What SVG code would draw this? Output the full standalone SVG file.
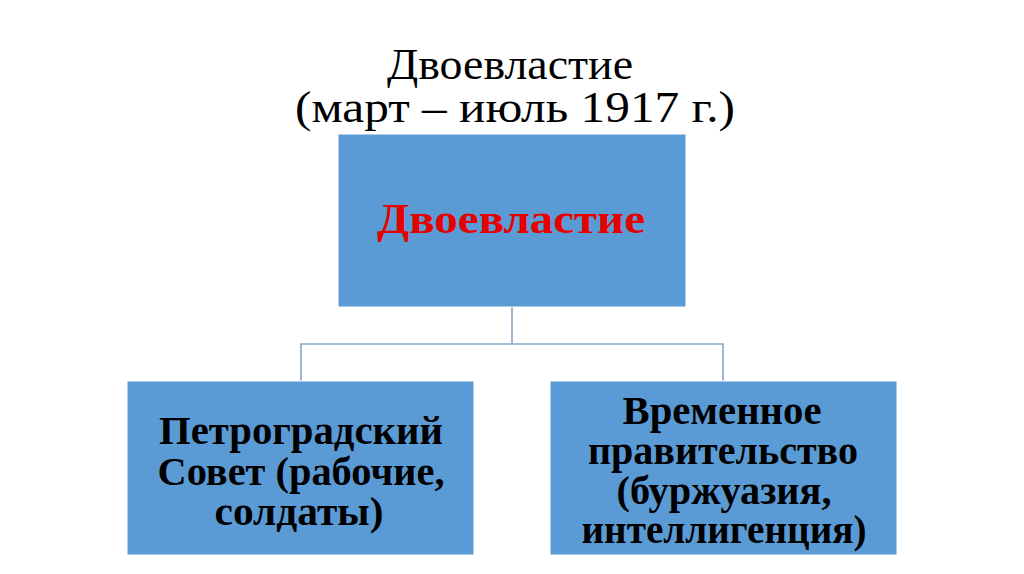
<svg xmlns="http://www.w3.org/2000/svg" width="1024" height="574" viewBox="0 0 1024 574">
<style>
.box{fill:#5b9bd5;stroke:#ffffff;stroke-width:1}
.title{font-family:"Liberation Serif","Times New Roman",serif;font-size:44px;fill:#000}
.lbl{font-family:"Liberation Serif","Times New Roman",serif;font-weight:bold;font-size:40px;fill:#000}
.red{font-family:"Liberation Serif","Times New Roman",serif;font-weight:bold;font-size:43px;fill:#e60000}
.conn{fill:none;stroke:#86a6c9;stroke-width:1.6}
</style>
<rect width="1024" height="574" fill="#ffffff"/>
<g id="title">
<text class="title" x="510" y="79" text-anchor="middle" textLength="246" lengthAdjust="spacingAndGlyphs">Двоевластие</text>
<text class="title" x="515" y="122" text-anchor="middle" textLength="440" lengthAdjust="spacingAndGlyphs">(март – июль 1917 г.)</text>
</g>
<g id="connectors">
<path class="conn" d="M512 307 V344 M301 381 V344 H723 V381"/>
</g>
<g id="node-root">
<rect class="box" x="338" y="134" width="348" height="173"/>
<text class="red" x="511" y="233" text-anchor="middle" textLength="268" lengthAdjust="spacingAndGlyphs">Двоевластие</text>
</g>
<g id="node-soviet">
<rect class="box" x="127" y="381" width="347" height="174"/>
<text class="lbl" x="301" y="444" text-anchor="middle" textLength="284" lengthAdjust="spacingAndGlyphs">Петроградский</text>
<text class="lbl" x="301" y="485" text-anchor="middle" textLength="287" lengthAdjust="spacingAndGlyphs">Совет (рабочие,</text>
<text class="lbl" x="299" y="525" text-anchor="middle" textLength="169" lengthAdjust="spacingAndGlyphs">солдаты)</text>
</g>
<g id="node-government">
<rect class="box" x="550" y="381" width="347" height="174"/>
<text class="lbl" x="722" y="424" text-anchor="middle" textLength="199" lengthAdjust="spacingAndGlyphs">Временное</text>
<text class="lbl" x="723" y="464" text-anchor="middle" textLength="270" lengthAdjust="spacingAndGlyphs">правительство</text>
<text class="lbl" x="724" y="504" text-anchor="middle" textLength="215" lengthAdjust="spacingAndGlyphs">(буржуазия,</text>
<text class="lbl" x="724" y="543" text-anchor="middle" textLength="285" lengthAdjust="spacingAndGlyphs">интеллигенция)</text>
</g>
</svg>
